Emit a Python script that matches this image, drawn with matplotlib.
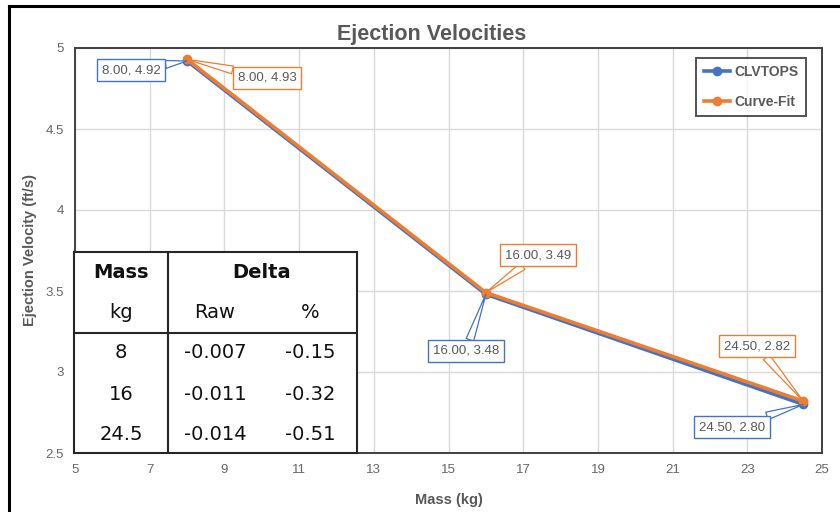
import matplotlib
matplotlib.use("Agg")
import matplotlib.pyplot as plt
from matplotlib.lines import Line2D

plt.rcParams['font.family'] = ['Liberation Sans', 'DejaVu Sans']

# series data
mass = [8, 16, 24.5]
clvtops = [4.92, 3.48, 2.80]
curve_fit = [4.93, 3.49, 2.82]

# delta table
tbl_mass = ['8', '16', '24.5']
tbl_raw = ['-0.007', '-0.011', '-0.014']
tbl_pct = ['-0.15', '-0.32', '-0.51']

blue = '#4472C4'
orange = '#ED7D31'
gray = '#595959'

fig = plt.figure(figsize=(8.4, 5.12), dpi=100)
ax = fig.add_axes([75/840, 59/512, 747/840, 405/512])

ax.plot(mass, clvtops, color=blue, lw=2.6, marker='o', ms=6, label='CLVTOPS', zorder=3)
ax.plot(mass, curve_fit, color=orange, lw=2.6, marker='o', ms=6, label='Curve-Fit', zorder=4)

ax.set_xlim(5, 25)
ax.set_ylim(2.5, 5)
ax.set_xticks(range(5, 26, 2))
ax.set_yticks([2.5, 3, 3.5, 4, 4.5, 5])
ax.set_yticklabels(['2.5', '3', '3.5', '4', '4.5', '5'])
ax.grid(True, color='#D9D9D9', lw=1)
ax.set_axisbelow(True)
ax.tick_params(length=0, labelsize=9.5, colors='#666666', pad=8)
for s in ax.spines.values():
    s.set_color('#404040')
    s.set_linewidth(1.4)

ax.set_title('Ejection Velocities', fontsize=15.5, fontweight='bold', color=gray, pad=6, x=0.478)
ax.set_xlabel('Mass (kg)', fontsize=10.5, fontweight='bold', color=gray, labelpad=12)
ax.set_ylabel('Ejection Velocity (ft/s)', fontsize=10.5, fontweight='bold', color=gray, labelpad=6)

# data callouts
blue_pos = [(6.50, 4.864), (15.47, 3.13), (22.59, 2.66)]
orange_pos = [(10.14, 4.815), (17.40, 3.722), (23.26, 3.16)]
for xs, ys, pos, col in [(mass, clvtops, blue_pos, blue), (mass, curve_fit, orange_pos, orange)]:
    for x, y, p in zip(xs, ys, pos):
        ax.annotate(f'{x:.2f}, {y:.2f}', xy=(x, y), xytext=p, ha='center', va='center',
                    fontsize=9.5, color=gray, zorder=6,
                    bbox=dict(boxstyle='square,pad=0.35', fc='white', ec=col, lw=1),
                    arrowprops=dict(arrowstyle='wedge,tail_width=0.6', fc='white', ec=col,
                                    lw=0.9, shrinkA=0, shrinkB=0))

leg = ax.legend(loc='upper right', bbox_to_anchor=(0.979, 0.976), fontsize=10,
                frameon=True, fancybox=False, edgecolor='#262626', labelspacing=1.1,
                handlelength=1.9, borderpad=0.55, handletextpad=0.3, borderaxespad=0)
leg.get_frame().set_linewidth(1.4)
for t in leg.get_texts():
    t.set_color(gray)
    t.set_fontweight('bold')

# delta table drawn on its own axes
tax = fig.add_axes([74/840, 59/512, 283/840, 201/512])
tax.set_xlim(0, 283)
tax.set_ylim(201, 0)
tax.set_xticks([])
tax.set_yticks([])
tax.set_facecolor('white')
tax.set_zorder(10)
for s in tax.spines.values():
    s.set_color('#262626')
    s.set_linewidth(1.5)
tax.plot([94, 94], [0, 201], color='#262626', lw=1.5)
tax.plot([0, 283], [81, 81], color='#262626', lw=1.5)

tfont = dict(family=['DejaVu Sans'], fontsize=14, color='#111111', ha='center', va='center')
tax.text(47, 20, 'Mass', fontweight='bold', **tfont)
tax.text(188, 20, 'Delta', fontweight='bold', **tfont)
tax.text(47, 61, 'kg', **tfont)
tax.text(141, 61, 'Raw', **tfont)
tax.text(236, 61, '%', **tfont)
for i, (m, r, p) in enumerate(zip(tbl_mass, tbl_raw, tbl_pct)):
    yy = 101 + i * 41
    tax.text(47, yy, m, **tfont)
    tax.text(141, yy, r, **tfont)
    tax.text(236, yy, p, **tfont)

# outer chart border
fig.add_artist(Line2D([9/840, 9/840], [0, 1 - 6/512], color='black', lw=2.2))
fig.add_artist(Line2D([9/840, 1], [1 - 6/512, 1 - 6/512], color='black', lw=2.2))

fig.savefig('out.png', dpi=100)
